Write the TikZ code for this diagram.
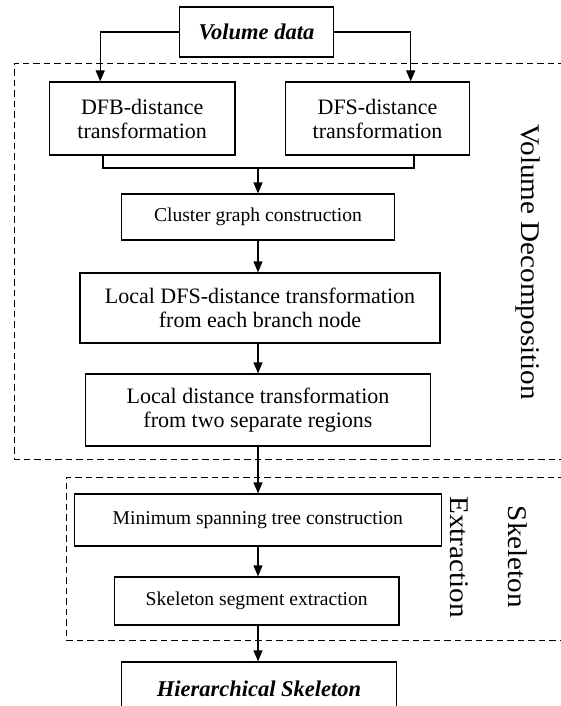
\documentclass[tikz,border=0pt]{standalone}
\usepackage{fontspec}
\setmainfont{Liberation Serif}
\newfontfamily\sidefont[FakeStretch=1.08]{Liberation Serif}
\usetikzlibrary{arrows.meta}

\tikzset{
  stepbox/.style={draw, line width=1.2pt, inner sep=0pt, align=center,
    font=\fontsize{22}{24}\selectfont},
  smallbox/.style={stepbox, font=\fontsize{19.6}{22}\selectfont},
  termbox/.style={stepbox, font=\fontsize{22.5}{25}\selectfont\bfseries\itshape},
  flow/.style={line width=1.2pt, -{Triangle[length=11pt,width=9pt]}},
  link/.style={line width=1.2pt},
  group/.style={line width=0.9pt, dash pattern=on 6.5pt off 4pt},
  sidelabel/.style={rotate=-90, anchor=base, inner sep=0pt,
    font=\sidefont\fontsize{27}{30}\selectfont},
}

\begin{document}
\begin{tikzpicture}[x=1pt, y=-1pt]
\useasboundingbox (0,0) rectangle (561,706);
\clip (0,0) rectangle (561,706);

% dashed stage frames (open to the right edge)
\draw[group] (575,63) -- (14.3,63) -- (14.3,459) -- (575,459);
\draw[group] (575,477) -- (66.2,477) -- (66.2,640) -- (575,640);

% stage labels
\node[sidelabel] (vd) at (521,262) {Volume Decomposition};
\node[sidelabel] (sk) at (508.3,557) {Skeleton};
\node[sidelabel] (ex) at (450,557) {Extraction};

% processing steps
\node[termbox, minimum width=154pt, minimum height=50pt] (vol) at (256.5,32) {Volume data};
\node[stepbox, minimum width=185.6pt, minimum height=73pt] (dfb) at (142.2,118.5) {DFB-distance\\transformation};
\node[stepbox, minimum width=184.6pt, minimum height=73pt] (dfs) at (377.5,118.5) {DFS-distance\\transformation};
\node[smallbox, minimum width=273pt, minimum height=46pt] (clu) at (258,217) {Cluster graph construction};
\node[stepbox, minimum width=360pt, minimum height=70pt] (ldfs) at (260,308) {Local DFS-distance transformation\\from each branch node};
\node[stepbox, minimum width=344.5pt, minimum height=72pt] (ldist) at (258,410) {Local distance transformation\\from two separate regions};
\node[smallbox, minimum width=366.7pt, minimum height=52pt] (mst) at (257.8,520) {Minimum spanning tree construction};
\node[smallbox, minimum width=284.4pt, minimum height=48pt] (sse) at (256.7,601) {Skeleton segment extraction};
\node[termbox, minimum width=274.8pt, minimum height=54pt] (hs) at (259,689) {Hierarchical Skeleton};

% split of the input into the two distance transforms
\coordinate (dfbin) at ([xshift=-42pt]dfb.north);
\coordinate (dfsin) at ([xshift=33.2pt]dfs.north);
\draw[flow] (vol.west) -| (dfbin);
\draw[flow] (vol.east) -| (dfsin);

% merge of the two transforms
\coordinate (dfbout) at ([xshift=-39.2pt]dfb.south);
\coordinate (dfsout) at ([xshift=36.5pt]dfs.south);
\coordinate (join) at (258,168);
\draw[link] (dfbout) |- (join) -| (dfsout);
\draw[flow] (join) -- (clu.north);

% main chain
\draw[flow] (clu.south) -- (clu.south |- ldfs.north);
\draw[flow] (clu.south |- ldfs.south) -- (clu.south |- ldist.north);
\draw[flow] (clu.south |- ldist.south) -- (clu.south |- mst.north);
\draw[flow] (clu.south |- mst.south) -- (clu.south |- sse.north);
\draw[flow] (clu.south |- sse.south) -- (clu.south |- hs.north);
\end{tikzpicture}
\end{document}
